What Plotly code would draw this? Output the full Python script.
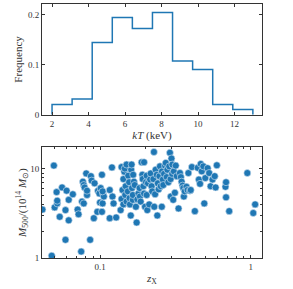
import plotly.graph_objects as go
from plotly.subplots import make_subplots

# Histogram of kT
kt_edges = [2.0, 3.1, 4.2, 5.3, 6.4, 7.5, 8.6, 9.7, 10.8, 11.9, 13.0]
kt_freq = [0.021, 0.032, 0.145, 0.195, 0.173, 0.205, 0.108, 0.091, 0.021, 0.011]

# Scatter z_X vs M500
z_x = [0.0415, 0.0478, 0.0494, 0.050, 0.0515, 0.052, 0.052, 0.054, 0.056, 0.059,
       0.059, 0.060, 0.062, 0.062, 0.066, 0.071, 0.072, 0.075, 0.076, 0.078,
       0.077, 0.078, 0.079, 0.081, 0.082, 0.082, 0.086, 0.087, 0.088, 0.091,
       0.092, 0.096, 0.097, 0.099, 0.100, 0.101, 0.103, 0.103, 0.104, 0.105,
       0.106, 0.104, 0.116, 0.116, 0.120, 0.121, 0.123, 0.128, 0.137, 0.139,
       0.141, 0.139, 0.143, 0.143, 0.145, 0.146, 0.147, 0.148, 0.150, 0.150,
       0.153, 0.154, 0.156, 0.157, 0.158, 0.160, 0.161, 0.162, 0.163, 0.165,
       0.165, 0.166, 0.168, 0.170, 0.173, 0.175, 0.177, 0.180, 0.183, 0.184,
       0.186, 0.189, 0.191, 0.192, 0.194, 0.196, 0.196, 0.199, 0.202, 0.204,
       0.204, 0.206, 0.208, 0.212, 0.215, 0.217, 0.220, 0.222, 0.226, 0.228,
       0.229, 0.232, 0.234, 0.238, 0.240, 0.242, 0.245, 0.248, 0.250, 0.253,
       0.257, 0.258, 0.261, 0.263, 0.266, 0.270, 0.273, 0.277, 0.280, 0.284,
       0.288, 0.291, 0.294, 0.295, 0.298, 0.301, 0.302, 0.306, 0.309, 0.314,
       0.318, 0.323, 0.332, 0.339, 0.344, 0.348, 0.353, 0.357, 0.360, 0.365,
       0.375, 0.381, 0.386, 0.395, 0.400, 0.407, 0.426, 0.445, 0.453, 0.461,
       0.466, 0.473, 0.485, 0.492, 0.500, 0.518, 0.530, 0.542, 0.558, 0.577,
       0.585, 0.596, 0.680, 0.686, 0.686, 0.720, 0.950, 1.040, 1.070]
m500 = [3.5, 1.06, 10.9, 3.7, 5.5, 4.1, 4.4, 2.9, 6.2, 1.6,
        3.45, 5.7, 4.5, 2.65, 5.2, 3.5, 3.1, 1.18, 4.3, 4.1,
        7.2, 6.6, 6.2, 8.9, 5.1, 5.7, 1.6, 8.3, 7.4, 2.8,
        6.9, 3.3, 5.7, 5.3, 4.2, 6.1, 3.3, 8.6, 4.1, 5.2,
        4.9, 5.6, 2.8, 5.8, 10.4, 4.9, 4.1, 2.85, 3.45, 4.6,
        5.8, 10.5, 4.0, 7.7, 9.3, 10.1, 5.1, 6.4, 11.2, 4.3,
        5.6, 8.4, 7.1, 4.7, 4.0, 3.0, 9.8, 11.2, 6.1, 4.5,
        5.1, 8.6, 7.2, 6.6, 3.76, 2.5, 4.55, 5.3, 6.1, 4.9,
        4.3, 11.9, 8.6, 7.7, 6.4, 5.3, 11.9, 3.76, 7.1, 8.4,
        5.1, 3.45, 6.9, 4.0, 7.6, 8.9, 6.4, 5.6, 7.7, 15.5,
        3.76, 5.2, 9.8, 8.6, 3.0, 6.9, 5.9, 8.3, 10.7, 6.4,
        3.76, 9.4, 7.6, 6.6, 8.8, 10.9, 11.7, 8.1, 9.8, 7.1,
        10.7, 15.2, 7.7, 4.9, 13.1, 8.8, 11.2, 4.5, 9.4, 5.4,
        10.9, 8.3, 3.6, 9.0, 8.1, 7.2, 6.5, 6.1, 4.9, 5.6,
        6.3, 5.8, 9.0, 5.7, 5.8, 10.5, 3.36, 10.3, 7.6, 6.8,
        11.4, 9.4, 10.7, 4.1, 7.9, 10.2, 9.0, 6.4, 7.6, 8.3,
        6.2, 11.0, 6.3, 7.1, 4.8, 3.36, 9.0, 3.2, 4.0]

FONT = "Liberation Serif"
AX = "#333333"
BLUE = "#1f77b4"

fig = make_subplots(rows=2, cols=1, vertical_spacing=0.127)

xs = [kt_edges[0]] + kt_edges[:-1] + [kt_edges[-1], kt_edges[-1]]
ys = [0] + kt_freq + [kt_freq[-1], 0]
fig.add_trace(go.Scatter(x=xs, y=ys, mode="lines", line=dict(color=BLUE, width=1.5, shape="hv"),
                         showlegend=False, hoverinfo="skip"), row=1, col=1)

fig.add_trace(go.Scatter(
    x=z_x, y=m500, mode="markers",
    marker=dict(color=BLUE, size=7, line=dict(color="#d6e6f4", width=0.6)),
    error_y=dict(type="percent", value=7, color="#aecbe6", thickness=0.8, width=1.5),
    showlegend=False), row=2, col=1)

axcommon = dict(showline=True, linecolor=AX, linewidth=1, mirror="allticks", ticks="inside",
                ticklen=3, tickcolor=AX, showgrid=False, zeroline=False, automargin=False,
                tickfont=dict(family=FONT, size=9, color="#333"))

fig.update_xaxes(**axcommon, range=[1.45, 13.5], tickvals=[2, 4, 6, 8, 10, 12],
                 title=dict(text="<i>kT</i> (keV)", font=dict(family=FONT, size=11, color="#333"), standoff=3),
                 row=1, col=1)
fig.update_yaxes(**axcommon, range=[0, 0.222], tickvals=[0, 0.1, 0.2], ticktext=["0", "0.1", "0.2"],
                 title=dict(text="Frequency", font=dict(family=FONT, size=11, color="#333"), standoff=3),
                 row=1, col=1)

fig.update_xaxes(**axcommon, type="log", range=[-1.385, 0.075],
                 tickvals=[0.1, 1], ticktext=["0.1", "1"],
                 minor=dict(ticks="inside", ticklen=2, tickcolor=AX, tickmode="array",
                            tickvals=[0.05, 0.06, 0.07, 0.08, 0.09, 0.2, 0.3, 0.4, 0.5, 0.6, 0.7, 0.8, 0.9]),
                 title=dict(text="<i>z</i><sub>X</sub>", font=dict(family=FONT, size=11, color="#333"), standoff=3),
                 row=2, col=1)
fig.update_yaxes(**axcommon, type="log", range=[0, 1.245],
                 tickvals=[1, 10], ticktext=["1", "10"],
                 minor=dict(ticks="inside", ticklen=2, tickcolor=AX, tickmode="array",
                            tickvals=[2, 3, 4, 5, 6, 7, 8, 9, 20]),
                 title=dict(text="<i>M</i><sub>500</sub>/(10<sup>14</sup> <i>M</i><sub>⊙</sub>)",
                            font=dict(family=FONT, size=11, color="#333"), standoff=1),
                 row=2, col=1)

fig.update_layout(width=293, height=289, margin=dict(l=42, r=31, t=4, b=31),
                  paper_bgcolor="white", plot_bgcolor="white",
                  font=dict(family=FONT, color="#333"))

fig.write_html("out.html", config={"displayModeBar": False},
               post_script="document.body.style.margin='0';document.body.style.padding='0';")
